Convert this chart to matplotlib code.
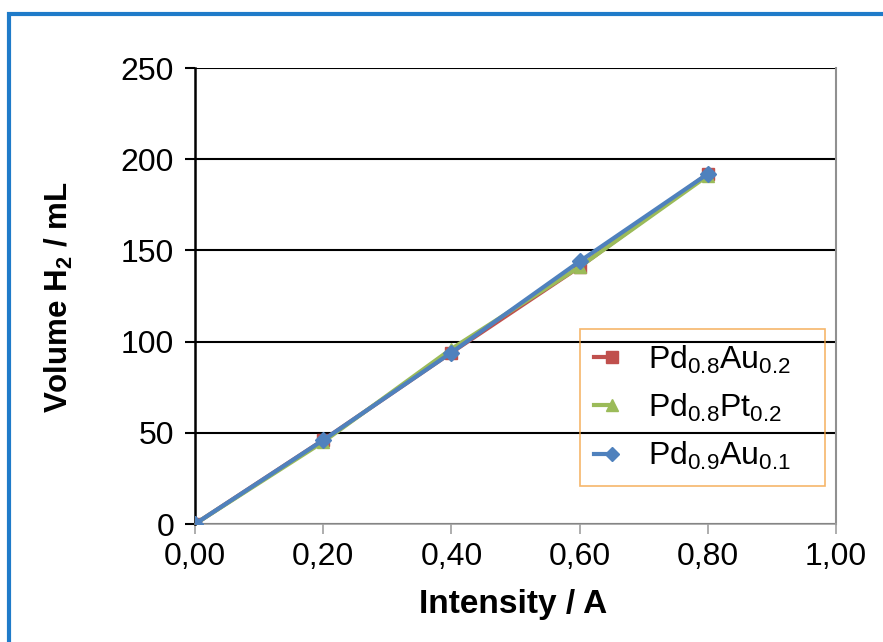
import matplotlib
matplotlib.use("Agg")
import matplotlib.pyplot as plt
from matplotlib.patches import Rectangle
from matplotlib.legend_handler import HandlerLine2DCompound

plt.rcParams['font.family'] = ['Liberation Sans', 'DejaVu Sans']
plt.rcParams['mathtext.fontset'] = 'custom'
plt.rcParams['mathtext.rm'] = 'Liberation Sans'
plt.rcParams['mathtext.it'] = 'Liberation Sans'
plt.rcParams['mathtext.bf'] = 'Liberation Sans:bold'

# Datos
intensity = [0.0, 0.2, 0.4, 0.6, 0.8]
pd_au_02 = [0, 46, 94, 141, 192]
pd_pt_02 = [0, 45, 96, 141, 191]
pd_au_01 = [0, 46, 94, 144, 192]

x_ticks = [0.0, 0.2, 0.4, 0.6, 0.8, 1.0]
x_ticklabels = ['0,00', '0,20', '0,40', '0,60', '0,80', '1,00']
y_ticks = [0, 50, 100, 150, 200, 250]


class RightMarker(HandlerLine2DCompound):
    """Marcador al final de la línea, como en Excel."""
    def get_xdata(self, legend, xdescent, ydescent, width, height, fontsize):
        xdata, _ = super().get_xdata(legend, xdescent, ydescent, width, height, fontsize)
        return xdata, [-xdescent + width]


fig = plt.figure(figsize=(8.83, 6.42), dpi=100)
ax = fig.add_axes([0.2208, 0.1838, 0.7260, 0.7102])

# marco azul exterior
fig.patches.append(Rectangle((9 / 883, -0.1), 1.2, 1 - 14 / 642 + 0.1,
                             transform=fig.transFigure, fill=False,
                             edgecolor='#1f7bc9', linewidth=3))

ax.set_axisbelow(True)
ax.yaxis.grid(True, color='black', linewidth=1.5)

ax.plot(intensity, pd_au_02, color='#c0504d', marker='s', markersize=9,
        linewidth=3, label='Pd$_{0.8}$Au$_{0.2}$', zorder=3)
ax.plot(intensity, pd_pt_02, color='#9bbb59', marker='^', markersize=9,
        linewidth=3, label='Pd$_{0.8}$Pt$_{0.2}$', zorder=4)
ax.plot(intensity, pd_au_01, color='#4f81bd', marker='D', markersize=8,
        linewidth=3, label='Pd$_{0.9}$Au$_{0.1}$', zorder=5)

ax.set_xlim(0, 1.0)
ax.set_ylim(0, 250)
ax.set_xticks(x_ticks)
ax.set_xticklabels(x_ticklabels)
ax.set_yticks(y_ticks)
ax.tick_params(axis='both', labelsize=23)
ax.tick_params(axis='y', direction='out', length=7, width=1.5, color='black', pad=8)
ax.tick_params(axis='x', direction='out', length=7, width=1.2, color='#a0a0a0', pad=6)

ax.spines['left'].set_color('black')
ax.spines['left'].set_linewidth(1.8)
ax.spines['bottom'].set_color('#a0a0a0')
ax.spines['bottom'].set_linewidth(1.2)
ax.spines['right'].set_color('#909090')
ax.spines['right'].set_linewidth(1.5)
ax.spines['top'].set_visible(False)

ax.set_xlabel('Intensity / A', fontsize=24, fontweight='bold')
ax.xaxis.set_label_coords(0.496, -0.142)
ax.set_ylabel(r'Volume H$_\mathbf{2}$ / mL', fontsize=22.5, fontweight='bold')
ax.yaxis.set_label_coords(-0.187, 0.498)

leg = ax.legend(loc='lower left', bbox_to_anchor=(0.600, 0.083, 0.383, 0.351),
                mode='expand', borderaxespad=0, fontsize=23, frameon=True,
                fancybox=False, handlelength=0.55, handletextpad=1.15,
                labelspacing=0.5, borderpad=0.45, markerscale=0.9,
                handler_map={plt.Line2D: RightMarker()})
leg.get_frame().set_edgecolor('#f4a445')
leg.get_frame().set_facecolor('none')
leg.get_frame().set_linewidth(1.2)

fig.savefig('out.png', dpi=100)
